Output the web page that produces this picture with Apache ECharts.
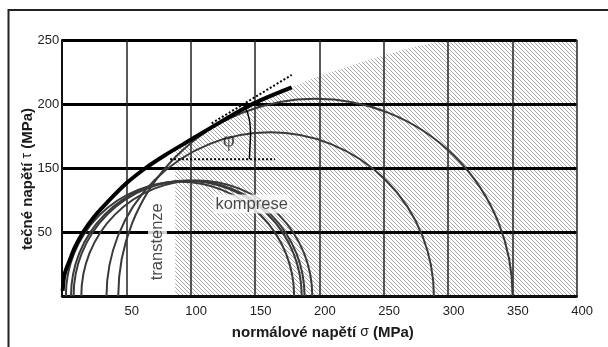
<!DOCTYPE html>
<html>
<head>
<meta charset="utf-8">
<script src="https://cdn.jsdelivr.net/npm/echarts@6/dist/echarts.min.js"></script>
<style>
  html, body { margin: 0; padding: 0; background: #fff; }
  #chart { width: 608px; height: 347px; }
</style>
</head>
<body>
<div id="chart"></div>
<script>
// popisky os (tak jak jsou v obrazku)
const xTickLabels = ['', '50', '100', '150', '200', '250', '300', '350', '400']
const yTickLabels = ['', '50', '150', '200', '250']

// Mohrovy kruznice - levy a pravy konec na ose sigma (MPa)
const circleLeft = [3, 7, 9, 15, 34.6, 43.7]
const circleRight = [180.4, 186.3, 188.5, 194.5, 289, 350.2]

// obalka (silna cara)
const envelopeSigma = [0.5, 2, 6, 10, 16.5, 25, 35, 50, 65, 80, 100, 125, 149, 178.5]
const envelopeTau = [4, 17, 28, 38, 50, 62, 73, 88, 100, 110, 122, 137, 150.5, 163]

// srafovana oblast - horni hranice
const hatchSigma = [88, 88, 100, 125, 149, 178.5, 200, 225, 250, 275, 299, 400]
const hatchTau = [0, 115, 122, 137, 150.5, 163, 172, 180, 188, 195, 200, 200]

// tecna (teckovana) a vodorovna teckovana cara
const tangentSigma = [116.3, 178.5]
const tangentTau = [134.9, 172.7]
const levelSigma = [84, 165.5]
const levelTau = [106.8, 106.8]

// oblouk uhlu phi
const phiSigma = [141.4, 145.7, 146.5, 146.1, 145.6]
const phiTau = [149.2, 137.5, 127.3, 117.2, 106.8]

const zip = (a, b) => a.map((v, i) => [v, b[i]])

// vzor srafy "\\\\"
function hatchPattern() {
	const c = document.createElement('canvas')
	c.width = 4
	c.height = 4
	const ctx = c.getContext('2d')
	ctx.fillStyle = '#a6a6a6'
	for (let i = 0; i < 4; i++) ctx.fillRect(i, i, 1, 1)
	return c
}

const font = 'Liberation Sans, Arial, sans-serif'
const chart = echarts.init(document.getElementById('chart'))

const option = {
	animation: false,
	backgroundColor: '#fff',
	grid: { left: 62, right: 31.3, top: 40, bottom: 51 },
	xAxis: {
		type: 'value',
		min: 0,
		max: 400,
		interval: 50,
		z: 1.5,
		name: 'normálové napětí {g|σ} (MPa)',
		nameLocation: 'middle',
		nameGap: 29,
		nameMoveOverlap: false,
		nameTextStyle: {
			fontFamily: font,
			fontSize: 15,
			fontWeight: 'bold',
			color: '#1a1a1a',
			padding: [0, 0, 0, 7],
			rich: { g: { fontFamily: font, fontSize: 14, fontWeight: 'normal', color: '#1a1a1a' } },
		},
		axisLine: { lineStyle: { color: '#111', width: 2.5 } },
		axisTick: { show: false },
		splitLine: { lineStyle: { color: '#222', width: 1.5 } },
		axisLabel: {
			margin: 9,
			fontFamily: font,
			fontSize: 13,
			color: '#222',
			padding: [0, 0, 0, 11],
			formatter: (v) => xTickLabels[Math.round(v / 50)],
		},
	},
	yAxis: {
		type: 'value',
		min: 0,
		max: 200,
		interval: 50,
		z: 1.5,
		name: 'tečné napětí {g|τ} (MPa)',
		nameLocation: 'middle',
		nameGap: 27,
		nameMoveOverlap: false,
		nameTextStyle: {
			fontFamily: font,
			fontSize: 15,
			fontWeight: 'bold',
			color: '#1a1a1a',
			padding: [0, 22, 0, 0],
			rich: { g: { fontFamily: font, fontSize: 14, fontWeight: 'normal', color: '#1a1a1a' } },
		},
		axisLine: { show: true, lineStyle: { color: '#111', width: 2 } },
		axisTick: { show: false },
		splitLine: { lineStyle: { color: '#000', width: 3 } },
		axisLabel: {
			align: 'left',
			margin: 24.5,
			fontFamily: font,
			fontSize: 13,
			color: '#222',
			padding: [4, 0, 0, 0],
			formatter: (v) => yTickLabels[Math.round(v / 50)],
		},
	},
	series: [
		{
			// srafovana oblast
			type: 'line',
			z: 1,
			silent: true,
			symbol: 'none',
			lineStyle: { width: 0 },
			areaStyle: { color: { image: hatchPattern(), repeat: 'repeat' }, opacity: 1 },
			data: zip(hatchSigma, hatchTau),
		},
		{
			// Mohrovy kruznice
			type: 'custom',
			z: 3,
			silent: true,
			data: zip(circleLeft, circleRight),
			renderItem: function (params, api) {
				const l = api.value(0)
				const r = api.value(1)
				const c = api.coord([(l + r) / 2, 0])
				const rad = api.size([(r - l) / 2, 0])[0]
				return {
					type: 'arc',
					shape: { cx: c[0], cy: c[1], r: rad, startAngle: Math.PI, endAngle: Math.PI * 2 },
					style: { stroke: '#3a3a3a', lineWidth: 2, fill: null },
				}
			},
		},
		{
			// obalka
			type: 'line',
			z: 4,
			smooth: 0.3,
			symbol: 'none',
			lineStyle: { color: '#000', width: 4, cap: 'butt' },
			data: zip(envelopeSigma, envelopeTau),
		},
		{
			type: 'line',
			z: 4,
			symbol: 'none',
			lineStyle: { color: '#000', width: 2, type: [2, 2] },
			data: zip(tangentSigma, tangentTau),
		},
		{
			type: 'line',
			z: 4,
			symbol: 'none',
			lineStyle: { color: '#000', width: 2, type: [2, 2] },
			data: zip(levelSigma, levelTau),
		},
		{
			type: 'line',
			z: 4,
			smooth: true,
			symbol: 'none',
			lineStyle: { color: '#000', width: 1.5 },
			data: zip(phiSigma, phiTau),
		},
		{
			// popisky v grafu
			type: 'scatter',
			z: 6,
			silent: true,
			symbolSize: 0,
			label: { show: true, position: 'inside', fontFamily: font, color: '#1a1a1a' },
			data: [
				{
					value: [147.4, 71.9],
					label: { formatter: 'komprese', fontSize: 16.5, backgroundColor: '#fff', padding: [1, 2] },
				},
				{
					value: [74.2, 42.4],
					label: { formatter: 'transtenze', fontSize: 16.5, rotate: 90, backgroundColor: '#fff', padding: [1, 2] },
				},
				{
					value: [129.6, 121.6],
					label: { formatter: 'φ', fontSize: 21, fontFamily: 'Liberation Serif, DejaVu Serif, serif' },
				},
			],
		},
	],
	graphic: [
		{
			// ramecek obrazku
			type: 'polyline',
			silent: true,
			shape: { points: [[608, 10], [8.5, 10], [8.5, 347]] },
			style: { stroke: '#222', lineWidth: 2, fill: null },
		},
	],
}

chart.setOption(option)
</script>
</body>
</html>
